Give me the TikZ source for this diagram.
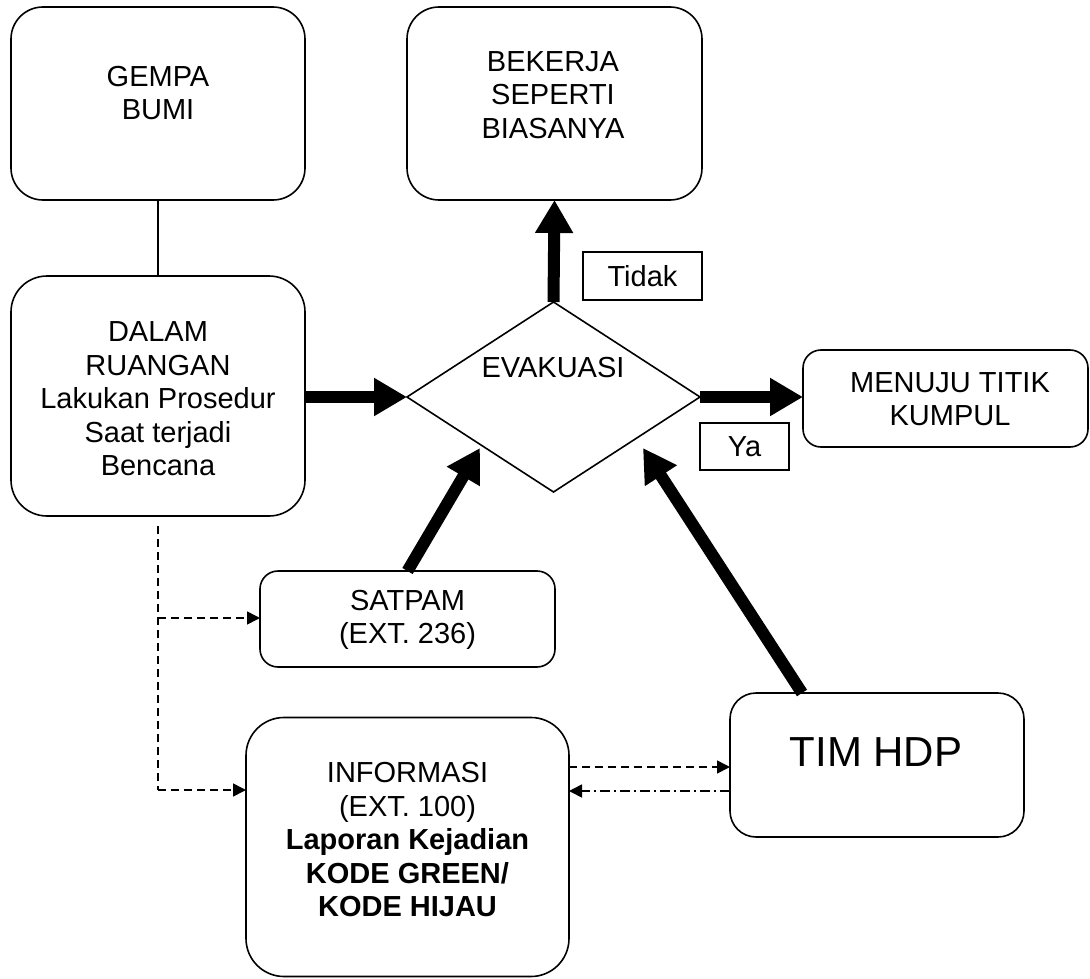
\documentclass[tikz,border=0pt]{standalone}
\usepackage{fontspec}
\setmainfont{Liberation Sans}
\usetikzlibrary{arrows.meta,shapes.geometric}
\begin{document}
\begin{tikzpicture}[x=1pt,y=-1pt,
  box/.style={draw,line width=1.6pt,rectangle,inner sep=0pt,outer sep=0pt},
  lbl/.style={draw,line width=1.6pt,rectangle,inner sep=0pt,outer sep=0pt,font=\fontsize{29}{33.5}\selectfont},
  txt/.style={align=center,inner sep=0pt,font=\fontsize{29}{33.5}\selectfont},
  big/.style={line width=12pt,-{Triangle[length=33pt,width=36pt]}},
  dsh/.style={line width=1.6pt,dash pattern=on 8pt off 5pt},
  dd/.style={line width=1.6pt,dash pattern=on 10pt off 4pt on 2pt off 4pt},
  sm/.style={-{Triangle[length=13pt,width=13pt]}}
]
\useasboundingbox (0,0) rectangle (1090,979);

% boxes
\node[box,rounded corners=32pt,minimum width=294pt,minimum height=193pt] (gempa) at (158,103.5) {};
\node[box,rounded corners=32pt,minimum width=295pt,minimum height=193pt] (bekerja) at (554.5,103.5) {};
\node[box,rounded corners=36pt,minimum width=294pt,minimum height=240pt] (dalam) at (158,396) {};
\node[box,rounded corners=18pt,minimum width=285pt,minimum height=97pt] (menuju) at (945.5,398.5) {};
\node[box,rounded corners=18pt,minimum width=295pt,minimum height=96pt] (satpam) at (407.5,619) {};
\node[box,rounded corners=38pt,minimum width=323pt,minimum height=259pt] (info) at (407.5,847) {};
\node[box,rounded corners=26pt,minimum width=294pt,minimum height=144pt] (tim) at (877,765) {};
\node[box,diamond,minimum width=293pt,minimum height=190pt] (evak) at (553.5,397) {};

% texts
\node[txt] (gempaT) at (158,93) {GEMPA\\BUMI};
\node[txt] (bekerjaT) at (553,95) {BEKERJA\\SEPERTI\\BIASANYA};
\node[txt] (dalamT) at (158,399) {DALAM\\RUANGAN\\Lakukan Prosedur\\Saat terjadi\\Bencana};
\node[txt] (menujuT) at (950,399) {MENUJU TITIK\\KUMPUL};
\node[txt] (satpamT) at (407.5,620) {SATPAM\\(EXT. 236)};
\node[txt] (infoT) at (407.5,840) {INFORMASI\\(EXT. 100)\\\textbf{Laporan Kejadian}\\\textbf{KODE GREEN/}\\\textbf{KODE HIJAU}};
\node[txt,font=\fontsize{42}{48}\selectfont] (timT) at (876,752) {TIM HDP};
\node[txt] (evakT) at (553,368) {EVAKUASI};

% label boxes
\node[lbl,minimum width=119pt,minimum height=48pt] (tidak) at (642.5,276) {Tidak};
\node[lbl,minimum width=89pt,minimum height=47pt] (ya) at (744.5,446.5) {Ya};

% solid connector
\draw[line width=1.6pt] (gempa.south) -- (dalam.north);

% thick arrows
\draw[big] (dalam.east |- evak.west) -- (evak.west);
\draw[big] (evak.north) -- (bekerja.south);
\draw[big] (evak.east) -- (menuju.west |- evak.east);
\coordinate (sTip) at (480,448);
\draw[big] (satpam.north) -- (sTip);
\coordinate (tTip) at (643,448);
\draw[big] ([xshift=72pt]tim.north west) -- (tTip);

% dashed connectors
\coordinate (dA) at (158,618);
\coordinate (dB) at (158,790);
\draw[dsh] ([yshift=-10pt]dalam.south) -- (dB);
\draw[dsh,sm] (dA) -- (satpam.west |- dA);
\draw[dsh,sm] (dB) -- (info.west |- dB);
\coordinate (iA) at (569,767);
\coordinate (iB) at (569,791);
\draw[dsh,sm] (iA) -- (tim.west |- iA);
\draw[dd,sm] (tim.west |- iB) -- (iB);
\end{tikzpicture}
\end{document}
